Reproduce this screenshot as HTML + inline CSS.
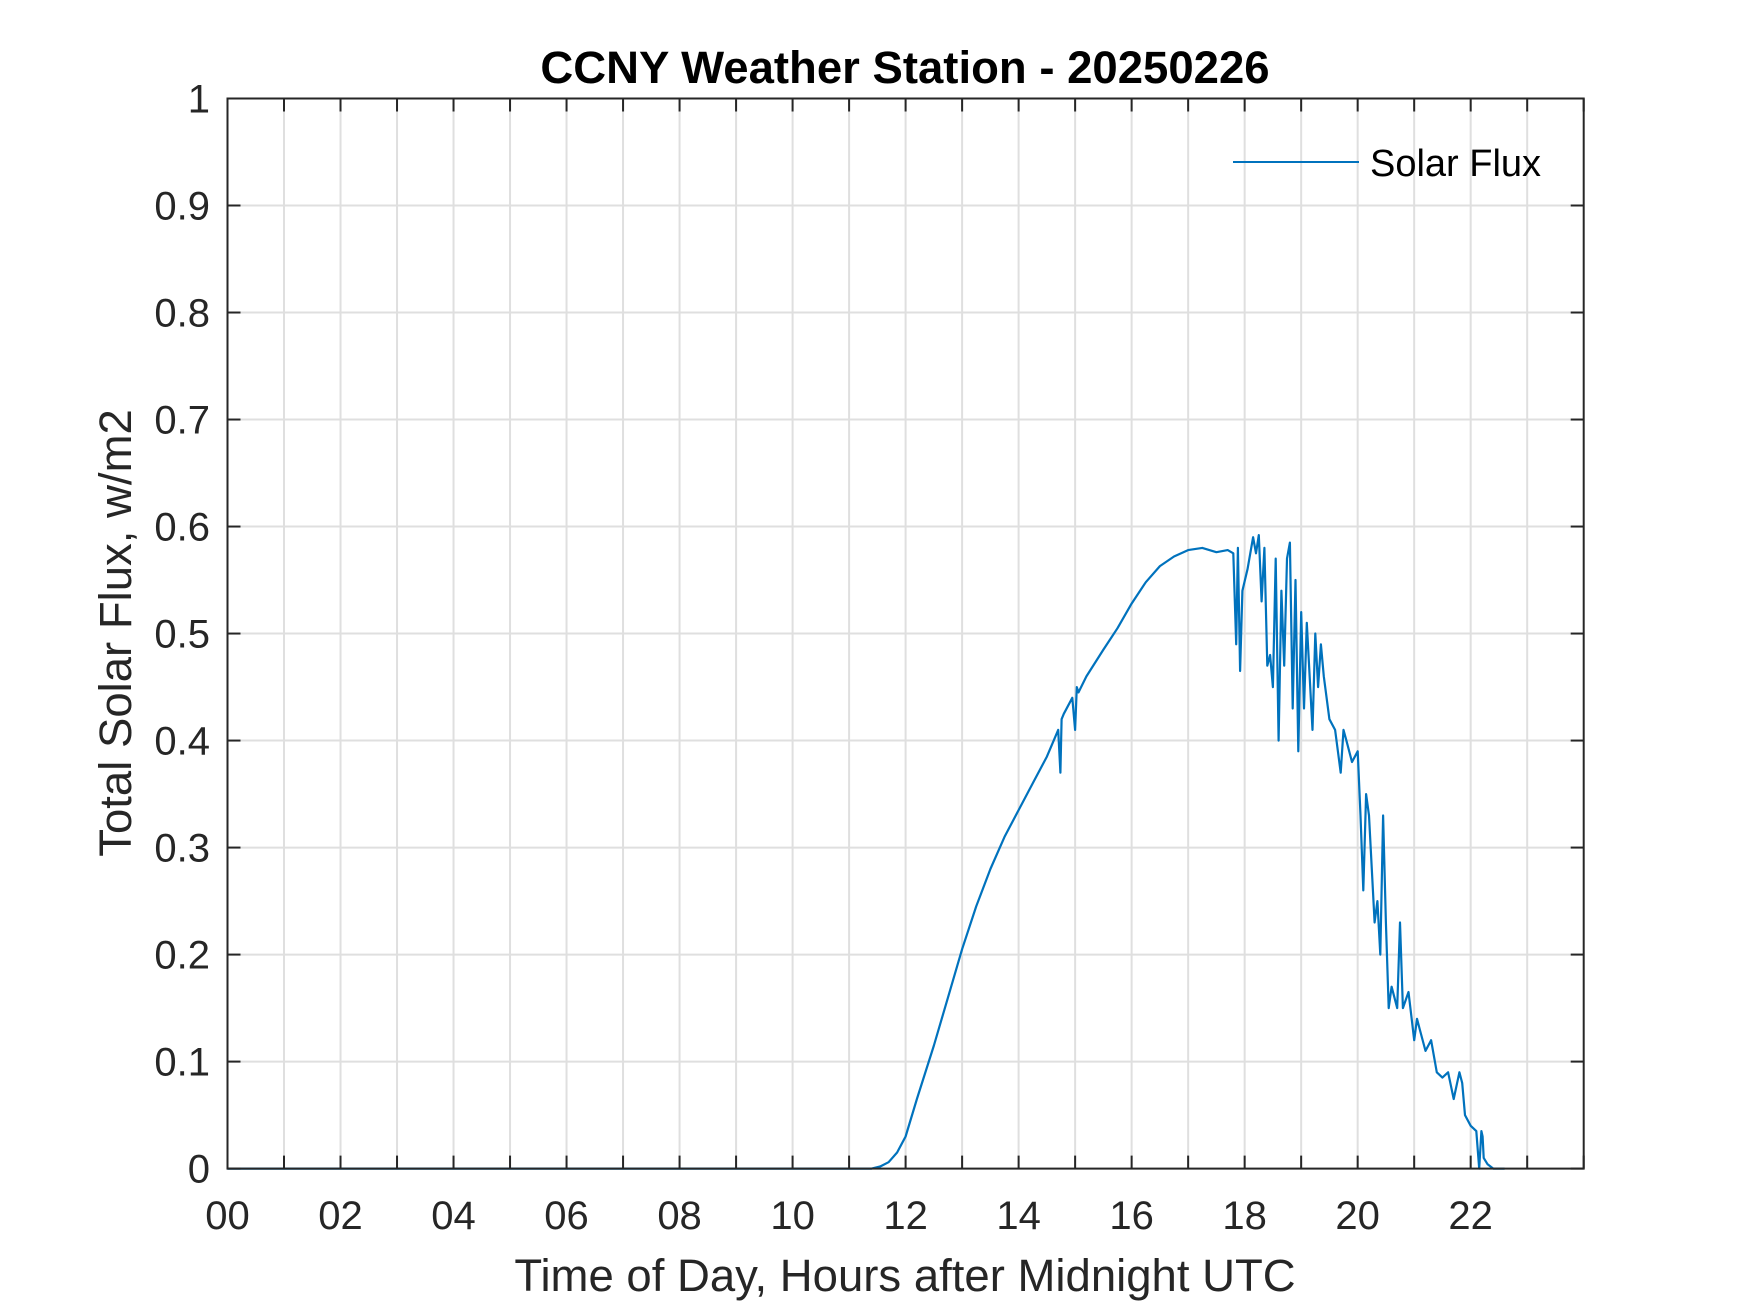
<!DOCTYPE html>
<html><head><meta charset="utf-8"><style>
html,body{margin:0;padding:0;background:#fff;}
svg{display:block;font-family:"Liberation Sans",Arial,sans-serif;}
</style></head><body>
<svg id="chart" width="1750" height="1313" viewBox="0 0 1750 1313">
<rect x="0" y="0" width="1750" height="1313" fill="#fff"/>
<rect x="227.5" y="98.5" width="1356.2" height="1070.1" fill="#fff"/>
<g id="grid"></g>
<g id="series"></g>
<g id="axes"></g>
<text x="905" y="83" text-anchor="middle" font-size="45.5" font-weight="bold" fill="#000">CCNY Weather Station - 20250226</text>
<text x="905" y="1291" text-anchor="middle" font-size="45.5" fill="#262626">Time of Day, Hours after Midnight UTC</text>
<text transform="translate(131,633) rotate(-90)" text-anchor="middle" font-size="45.5" fill="#262626">Total Solar Flux, w/m2</text>
<g>
<line x1="1233" y1="162" x2="1359" y2="162" stroke="#0072BD" stroke-width="2"/>
<text x="1370" y="176" font-size="38" fill="#000">Solar Flux</text>
</g>
</svg>
<script>
const hours = [0,11.4,11.55,11.7,11.85,12.0,12.2,12.5,12.75,13.0,13.25,13.5,13.75,14.0,14.25,14.5,14.7,14.74,14.76,14.8,14.95,15.0,15.03,15.06,15.2,15.5,15.75,16.0,16.25,16.5,16.75,17.0,17.25,17.5,17.7,17.8,17.85,17.88,17.92,17.96,18.05,18.15,18.2,18.25,18.3,18.35,18.4,18.45,18.5,18.55,18.6,18.65,18.7,18.75,18.8,18.85,18.9,18.95,19.0,19.05,19.1,19.2,19.25,19.3,19.35,19.4,19.5,19.6,19.7,19.75,19.8,19.9,20.0,20.05,20.1,20.15,20.2,20.3,20.35,20.4,20.45,20.5,20.55,20.6,20.7,20.75,20.8,20.9,21.0,21.05,21.1,21.2,21.3,21.4,21.5,21.6,21.7,21.8,21.85,21.9,22.0,22.1,22.15,22.19,22.21,22.23,22.3,22.4,22.6,23.0,24.0];
const flux = [0,0,0.002,0.006,0.015,0.03,0.065,0.115,0.16,0.205,0.245,0.28,0.31,0.335,0.36,0.385,0.41,0.37,0.42,0.425,0.44,0.41,0.45,0.445,0.46,0.485,0.505,0.528,0.548,0.563,0.572,0.578,0.58,0.576,0.578,0.575,0.49,0.58,0.465,0.54,0.56,0.59,0.575,0.592,0.53,0.58,0.47,0.48,0.45,0.57,0.4,0.54,0.47,0.57,0.585,0.43,0.55,0.39,0.52,0.43,0.51,0.41,0.5,0.45,0.49,0.46,0.42,0.41,0.37,0.41,0.4,0.38,0.39,0.33,0.26,0.35,0.33,0.23,0.25,0.2,0.33,0.23,0.15,0.17,0.15,0.23,0.15,0.165,0.12,0.14,0.13,0.11,0.12,0.09,0.085,0.09,0.065,0.09,0.08,0.05,0.04,0.035,0,0.035,0.03,0.01,0.004,0,0];
const xTickValues = [0,1,2,3,4,5,6,7,8,9,10,11,12,13,14,15,16,17,18,19,20,21,22,23,24];
const xTickLabels = ["00","","02","","04","","06","","08","","10","","12","","14","","16","","18","","20","","22","",""];
const yTickValues = [0,0.1,0.2,0.3,0.4,0.5,0.6,0.7,0.8,0.9,1];
const yTickLabels = ["0","0.1","0.2","0.3","0.4","0.5","0.6","0.7","0.8","0.9","1"];

const L=227.5,R=1583.7,T=98.5,B=1168.6;
const xScale=h=>L+(h/24)*(R-L);
const yScale=v=>B-(v/1)*(B-T);
const NS="http://www.w3.org/2000/svg";
function mk(tag,attrs,parent){const e=document.createElementNS(NS,tag);for(const k in attrs)e.setAttribute(k,attrs[k]);parent.appendChild(e);return e;}
const grid=document.getElementById('grid'),axes=document.getElementById('axes'),series=document.getElementById('series');

xTickValues.forEach((h,i)=>{
  const x=xScale(h);
  if(h>0&&h<24){const g=mk('line',{x1:x,y1:T,x2:x,y2:B,stroke:'#dfdfdf','stroke-width':2},grid);
  
  }
  const t1=mk('line',{x1:x,y1:B,x2:x,y2:B-13,stroke:'#262626','stroke-width':2},axes);
  
  
  const t2=mk('line',{x1:x,y1:T,x2:x,y2:T+13,stroke:'#262626','stroke-width':2},axes);
  
  
  if(xTickLabels[i]){const tx=mk('text',{x:x,y:1229,'text-anchor':'middle','font-size':40,fill:'#262626'},axes);tx.textContent=xTickLabels[i];
  
  }
});
yTickValues.forEach((v,i)=>{
  const y=yScale(v);
  if(v>0&&v<1){const g=mk('line',{x1:L,y1:y,x2:R,y2:y,stroke:'#dfdfdf','stroke-width':2},grid);
  
  }
  const t1=mk('line',{x1:L,y1:y,x2:L+13,y2:y,stroke:'#262626','stroke-width':2},axes);
  
  
  const t2=mk('line',{x1:R,y1:y,x2:R-13,y2:y,stroke:'#262626','stroke-width':2},axes);
  
  
  const tx=mk('text',{x:210,y:y+14,'text-anchor':'end','font-size':40,fill:'#262626'},axes);tx.textContent=yTickLabels[i];
  
  
});
const frame=mk('rect',{x:L,y:T,width:R-L,height:B-T,fill:'none',stroke:'#262626','stroke-width':2},axes);



const pts=hours.map((h,i)=>xScale(h).toFixed(1)+','+yScale(flux[i]).toFixed(1)).join(' ');
const line=mk('polyline',{points:pts,fill:'none',stroke:'#0072BD','stroke-width':2.2,'stroke-linejoin':'round'},series);


</script>
</body></html>
